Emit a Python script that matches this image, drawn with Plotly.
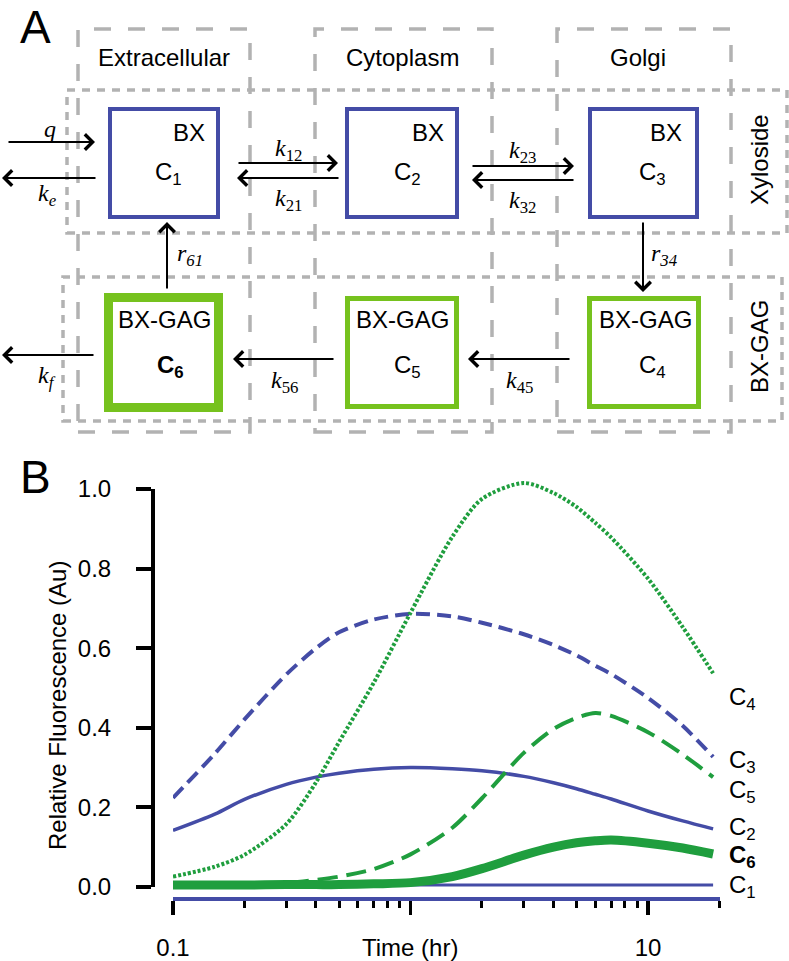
import plotly.graph_objects as go

# ---------------- data (panel B) ----------------
time_hr = [0.1, 0.15, 0.2, 0.3, 0.4, 0.5, 0.7, 1.0, 1.5, 2, 3, 4, 5, 6, 7, 10, 14, 18.8]
C1 = [0.005] * 18
C2 = [0.142, 0.183, 0.220, 0.258, 0.276, 0.286, 0.296, 0.300, 0.297, 0.292, 0.278, 0.262, 0.247, 0.233, 0.221, 0.191, 0.166, 0.146]
C3 = [0.224, 0.335, 0.421, 0.534, 0.600, 0.640, 0.672, 0.686, 0.680, 0.664, 0.635, 0.608, 0.582, 0.556, 0.535, 0.475, 0.405, 0.327]
C4 = [0.026, 0.051, 0.081, 0.158, 0.263, 0.364, 0.513, 0.689, 0.880, 0.975, 1.015, 0.990, 0.955, 0.915, 0.878, 0.775, 0.653, 0.537]
C5 = [0.001, 0.002, 0.004, 0.010, 0.018, 0.026, 0.045, 0.082, 0.149, 0.223, 0.337, 0.397, 0.425, 0.437, 0.430, 0.389, 0.333, 0.276]
C6 = [0.005, 0.005, 0.005, 0.006, 0.006, 0.006, 0.008, 0.011, 0.026, 0.046, 0.080, 0.100, 0.111, 0.116, 0.118, 0.110, 0.098, 0.083]

y_tick_vals = [0.0, 0.2, 0.4, 0.6, 0.8, 1.0]
y_tick_text = ["0.0", "0.2", "0.4", "0.6", "0.8", "1.0"]
x_tick_vals = [0.1, 1, 10]
x_tick_text = ["0.1", "", "10"]
x_minor_vals = [0.2, 0.3, 0.4, 0.5, 0.6, 0.7, 0.8, 0.9, 2, 3, 4, 5, 6, 7, 8, 9, 20]

# ---------------- styling ----------------
W, H = 789, 961
BLUE = "#444CA6"
GREEN_LINE = "#1F9E3E"
GREEN_BOX = "#76C21E"
GRAY = "#B2B2B2"
SANS = "Liberation Sans, Arial, sans-serif"
SERIF = "Liberation Serif, Times New Roman, serif"


def px(x):
    return x / W


def py(y):
    return 1 - y / H


fig = go.Figure()

series = [
    ("C1", C1, dict(color=BLUE, width=3)),
    ("C2", C2, dict(color=BLUE, width=3.5)),
    ("C3", C3, dict(color=BLUE, width=4, dash="14px,7px")),
    ("C4", C4, dict(color=GREEN_LINE, width=4, dash="3px,2px")),
    ("C5", C5, dict(color=GREEN_LINE, width=4, dash="20px,9px")),
    ("C6", C6, dict(color=GREEN_LINE, width=9)),
]
for name, vals, ln in series:
    fig.add_trace(go.Scatter(x=time_hr, y=vals, mode="lines", name=name,
                             line=dict(shape="spline", smoothing=0.8, **ln),
                             hoverinfo="skip", showlegend=False))

# dummy trace for the display y-axis
fig.add_trace(go.Scatter(x=[None], y=[None], xaxis="x", yaxis="y2",
                         showlegend=False, hoverinfo="skip"))

# plot geometry (pixels)
X_LEFT, X_RIGHT = 173, 720
Y_DATA_TOP, Y_DATA_BOT = 477, 897
Y_AX_TOP, Y_AX_BOT = 489, 887
Y_AX_X = 152

fig.update_layout(
    template="none",
    width=W, height=H, autosize=False,
    margin=dict(l=0, r=0, t=0, b=0, pad=0, autoexpand=False),
    paper_bgcolor="white", plot_bgcolor="rgba(0,0,0,0)",
    showlegend=False,
    xaxis=dict(
        type="log", domain=[px(X_LEFT), px(X_RIGHT)],
        range=[-1, 1.3032], anchor="y", automargin=False,
        showgrid=False, zeroline=False,
        showline=True, linecolor=BLUE, linewidth=3.5,
        ticks="outside", ticklen=14, tickwidth=3.5, tickcolor="black",
        tickmode="array", tickvals=x_tick_vals, ticktext=x_tick_text,
        tickfont=dict(family=SANS, size=24, color="black"),
        ticklabelstandoff=13,
        minor=dict(tickmode="array", tickvals=x_minor_vals, ticks="outside",
                   ticklen=7, tickwidth=3, tickcolor="black", showgrid=False),
    ),
    yaxis=dict(
        domain=[py(Y_DATA_BOT), py(Y_DATA_TOP)],
        range=[-10 / 398, 410 / 398], automargin=False,
        showline=False, showgrid=False, zeroline=False,
        showticklabels=False, ticks="",
    ),
    yaxis2=dict(
        domain=[py(Y_AX_BOT), py(Y_AX_TOP)],
        range=[0, 1], anchor="free", position=px(Y_AX_X), automargin=False,
        showline=True, linecolor="black", linewidth=3.5,
        showgrid=False, zeroline=False,
        ticks="outside", ticklen=15, tickwidth=4, tickcolor="black",
        tickmode="array", tickvals=y_tick_vals, ticktext=y_tick_text,
        tickfont=dict(family=SANS, size=24, color="black"),
        ticklabelstandoff=20,
    ),
)

shapes = []
# dashed compartment columns
for x0, x1 in [(78, 250), (315, 492), (557, 731)]:
    shapes.append(dict(type="rect", xref="paper", yref="paper",
                       x0=px(x0), x1=px(x1), y0=py(432), y1=py(29),
                       line=dict(color=GRAY, width=3.5, dash="17px,17px"),
                       fillcolor="rgba(0,0,0,0)", layer="below"))
# dashed rows
for x0, x1, y0, y1 in [(67, 787, 90, 233), (63, 782, 277, 421)]:
    shapes.append(dict(type="rect", xref="paper", yref="paper",
                       x0=px(x0), x1=px(x1), y0=py(y1), y1=py(y0),
                       line=dict(color=GRAY, width=3.5, dash="8px,7px"),
                       fillcolor="rgba(0,0,0,0)", layer="below"))
# compartment boxes
boxes = [
    (110, 218, 109, 217, BLUE, 4),
    (347, 457, 109, 217, BLUE, 4),
    (590, 697, 109, 217, BLUE, 4),
    (108.5, 218.5, 297.5, 407.5, GREEN_BOX, 9),
    (347.5, 456.5, 298.5, 406.5, GREEN_BOX, 5),
    (589.5, 698.5, 298.5, 406.5, GREEN_BOX, 5),
]
for x0, x1, y0, y1, c, w in boxes:
    shapes.append(dict(type="rect", xref="paper", yref="paper",
                       x0=px(x0), x1=px(x1), y0=py(y1), y1=py(y0),
                       line=dict(color=c, width=w), fillcolor="white"))
fig.update_layout(shapes=shapes)

ann = []


def text(x, y, s, size=24, family=SANS, angle=0, xanchor="center"):
    ann.append(dict(x=px(x), y=py(y), xref="paper", yref="paper", text=s,
                    showarrow=False, textangle=angle, xanchor=xanchor,
                    yanchor="middle",
                    font=dict(family=family, size=size, color="black")))


# panel letters
text(35, 27, "A", size=46)
text(35, 477, "B", size=46)
# column / row headings
text(164, 58, "Extracellular")
text(403, 58, "Cytoplasm")
text(638, 58, "Golgi")
text(760, 160, "Xyloside", angle=-90)
text(760, 347, "BX-GAG", angle=-90)
# box contents
for bx, cx, lab in [(189, 168, "C<sub>1</sub>"), (428, 407, "C<sub>2</sub>"), (666, 652, "C<sub>3</sub>")]:
    text(bx, 133, "BX")
    text(cx, 173, lab)
for gx, cx, lab in [(164, 170, "<b>C<sub>6</sub></b>"), (402, 407, "C<sub>5</sub>"), (645, 652, "C<sub>4</sub>")]:
    text(gx, 320, "BX-GAG")
    text(cx, 366, lab)

# arrows: (tail x, tail y, head x, head y)
arrows = [
    (7, 142, 95, 142), (97, 178, 2, 178),
    (237, 163, 338, 163), (340, 178, 237, 178),
    (471, 166, 574, 166), (575, 180, 472, 180),
    (167, 290, 167, 222), (643, 221, 643, 292),
    (335, 359, 233, 359), (571, 359, 468, 359),
    (95, 355, 2, 355),
]
for tx, ty, hx, hy in arrows:
    ann.append(dict(x=px(hx), y=py(hy), xref="paper", yref="paper",
                    axref="pixel", ayref="pixel", ax=tx - hx, ay=ty - hy,
                    text="", showarrow=True, arrowhead=4, arrowsize=1.5,
                    arrowwidth=2, arrowcolor="black", standoff=0, startstandoff=0))

# rate labels
for x, y, s in [
    (50, 129, "<i>q</i>"), (47, 195, "<i>k<sub>e</sub></i>"),
    (288, 150, "<i>k</i><sub>12</sub>"), (288, 200, "<i>k</i><sub>21</sub>"),
    (522, 152, "<i>k</i><sub>23</sub>"), (522, 202, "<i>k</i><sub>32</sub>"),
    (190, 255, "<i>r<sub>61</sub></i>"), (664, 255, "<i>r<sub>34</sub></i>"),
    (284, 382, "<i>k</i><sub>56</sub>"), (519, 382, "<i>k</i><sub>45</sub>"),
    (47, 377, "<i>k<sub>f</sub></i>"),
]:
    text(x, y, s, family=SERIF)

# chart texts
text(57, 706, "Relative Fluorescence (Au)", angle=-90)
text(410, 947, "Time (hr)")
for y, s in [(698, "C<sub>4</sub>"), (761, "C<sub>3</sub>"), (791, "C<sub>5</sub>"),
             (828, "C<sub>2</sub>"), (856, "<b>C<sub>6</sub></b>"), (886, "C<sub>1</sub>")]:
    text(727, y, s, xanchor="left")

fig.update_layout(annotations=ann)
fig.write_html("out.html",
               config={"displayModeBar": False, "staticPlot": True},
               post_script="document.body.style.margin='0';document.body.style.overflow='hidden';")
